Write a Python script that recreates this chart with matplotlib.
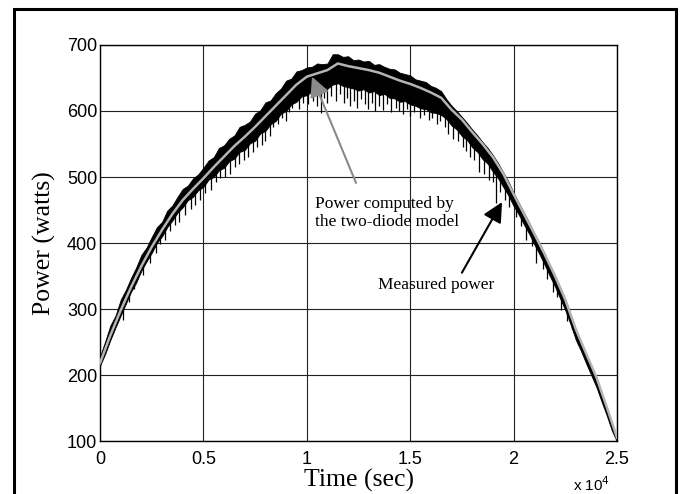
import numpy as np
import matplotlib.pyplot as plt
from matplotlib.patches import Rectangle

# time axis (sec): computed curve every 500 s, measured band every 250 s
t_comp = np.arange(0, 25001, 500)
t_meas = np.arange(0, 25001, 250)

# power computed by the two-diode model (gray curve)
computed = [218, 260, 298, 333, 365, 394, 420, 444, 465, 482,
            498, 515, 531, 547, 561, 576, 592, 608, 624, 640,
            652, 657, 662, 672, 668, 665, 662, 658, 652, 646,
            641, 635, 628, 620, 602, 587, 568, 550, 530, 505,
            474, 444, 414, 383, 350, 314, 270, 233, 197, 152, 105]

# measured power: upper and lower edge of the noisy band
meas_hi = [228, 251, 275, 290, 314, 329, 347, 363, 382, 393,
           409, 424, 432, 449, 457, 470, 482, 487, 498, 504,
           514, 525, 530, 544, 548, 558, 563, 576, 579, 584,
           596, 601, 613, 616, 627, 634, 646, 649, 660, 662,
           666, 667, 672, 671, 672, 686, 686, 682, 683, 677,
           678, 675, 676, 670, 671, 667, 664, 663, 658, 656,
           654, 648, 646, 644, 638, 635, 630, 618, 608, 600,
           591, 582, 572, 563, 553, 544, 533, 521, 507, 493,
           476, 461, 446, 431, 415, 400, 384, 367, 351, 333,
           315, 293, 270, 251, 232, 214, 196, 172, 150, 126, 101]
meas_lo = [214, 232, 253, 272, 290, 308, 326, 340, 358, 372,
           385, 400, 410, 424, 434, 446, 454, 465, 470, 480,
           485, 496, 500, 510, 514, 524, 528, 538, 541, 551,
           555, 566, 570, 580, 585, 596, 600, 610, 614, 622,
           624, 630, 628, 635, 634, 640, 642, 638, 636, 634,
           631, 633, 628, 630, 624, 626, 620, 619, 614, 615,
           610, 608, 604, 603, 598, 597, 594, 588, 578, 572,
           562, 556, 545, 538, 527, 520, 508, 498, 485, 472,
           456, 443, 428, 414, 398, 383, 367, 350, 334, 316,
           298, 277, 254, 237, 218, 200, 182, 160, 139, 116, 99]

# downward noise spikes of the measured power (time, lowest value)
spike_t = [1100, 1400, 1650, 2100, 2400, 2700, 2900, 3150, 3400, 3650,
           3800, 4100, 4400, 4600, 4850,
           5100, 5350, 5600, 5800, 6050, 6300, 6550, 6700, 6950, 7150,
           7400, 7600, 7850, 8000, 8200, 8350, 8600, 8800, 9000, 9150,
           9300, 9600, 9800,
           10050, 10300, 10500, 10700, 10850, 11000, 11150, 11400, 11600, 11800,
           11950, 12100, 12300, 12450, 12600, 12800, 12950, 13150, 13300, 13500,
           13700, 13900, 14050, 14300, 14450, 14650, 14850, 15000, 15200, 15450,
           15650, 15900, 16050, 16300, 16450, 16700, 16850,
           17050, 17300, 17550, 17700, 17900, 18100, 18350, 18550, 18800, 19000,
           19150, 19350, 19600, 19800, 20100, 20350, 20600, 20900, 21100, 21400,
           21600, 21900, 22100, 22300, 22600, 22800, 23100]
spike_lo = [283, 310, 330, 352, 370, 385, 398, 405, 418, 428,
            432, 442, 452, 458, 465,
            475, 480, 493, 498, 500, 505, 515, 520, 525, 530,
            538, 545, 548, 555, 562, 575, 580, 590, 585, 598,
            605, 603, 612,
            610, 615, 608, 597, 620, 612, 622, 615, 625, 612,
            620, 608, 615, 605, 618, 610, 603, 612, 600, 608,
            602, 610, 598, 605, 600, 596, 603, 592, 598, 590,
            594, 586, 590, 580, 585, 575, 565,
            558, 555, 545, 540, 530, 525, 508, 505, 495, 492,
            460, 478, 465, 455, 440, 425, 405, 395, 370, 360,
            345, 325, 318, 298, 282, 270, 245]

xticks = [0, 5000, 10000, 15000, 20000, 25000]
xticklabels = ['0', '0.5', '1', '1.5', '2', '2.5']
yticks = [100, 200, 300, 400, 500, 600, 700]

serif = 'Liberation Serif'
sans = 'Liberation Sans'

fig = plt.figure(figsize=(6.85, 4.94), dpi=100)
ax = fig.add_axes([100/685, 1-441/494, 517/685, 396/494])

# measured power (black noisy band)
ax.fill_between(t_meas, meas_lo, meas_hi, color='black', lw=0.6, zorder=3)
spike_top = np.interp(spike_t, t_meas, meas_lo) + 4
ax.vlines(spike_t, spike_lo, spike_top, color='black', lw=0.9, zorder=3)

# computed power (gray)
ax.plot(t_comp, computed, color='#b4b4b4', lw=1.8, zorder=4)

ax.set_xlim(0, 25000)
ax.set_ylim(100, 700)
ax.set_xticks(xticks)
ax.set_xticklabels(xticklabels)
ax.set_yticks(yticks)
ax.grid(True, color='#222222', lw=0.8)
ax.set_axisbelow(True)
ax.tick_params(direction='in', length=0, pad=7, labelsize=13)
ax.tick_params(axis='y', pad=2)
for lab in ax.get_xticklabels() + ax.get_yticklabels():
    lab.set_family(sans)
for s in ax.spines.values():
    s.set_linewidth(1)

ax.set_xlabel('Time (sec)', family=serif, fontsize=18.5, labelpad=1)
ax.set_ylabel('Power (watts)', family=serif, fontsize=18.5, labelpad=8)

fig.text(573/685, 3/494, r'x 10$^4$', family=sans, fontsize=11)

# annotations
ax.annotate('', xy=(10250, 652), xytext=(12380, 491),
            arrowprops=dict(arrowstyle='-|>,head_length=1.2,head_width=0.6',
                            color='#8a8a8a', lw=1.5, shrinkA=0, shrinkB=0),
            zorder=5)
ax.text(10400, 445, 'Power computed by\nthe two-diode model', family=serif,
        fontsize=12.5, ha='left', va='center', linespacing=1.2, zorder=5)

ax.annotate('', xy=(19440, 462), xytext=(17500, 355),
            arrowprops=dict(arrowstyle='-|>,head_length=1.2,head_width=0.6',
                            color='black', lw=1.5, shrinkA=0, shrinkB=0),
            zorder=5)
ax.text(13440, 336, 'Measured power', family=serif, fontsize=12.5,
        ha='left', va='center', zorder=5)

# outer frame
fig.add_artist(Rectangle((14/685, -0.1), 662/685, 1.1 - 9.5/494,
                         transform=fig.transFigure, fill=False,
                         lw=2.2, color='black'))

fig.savefig('out.png', dpi=100)
